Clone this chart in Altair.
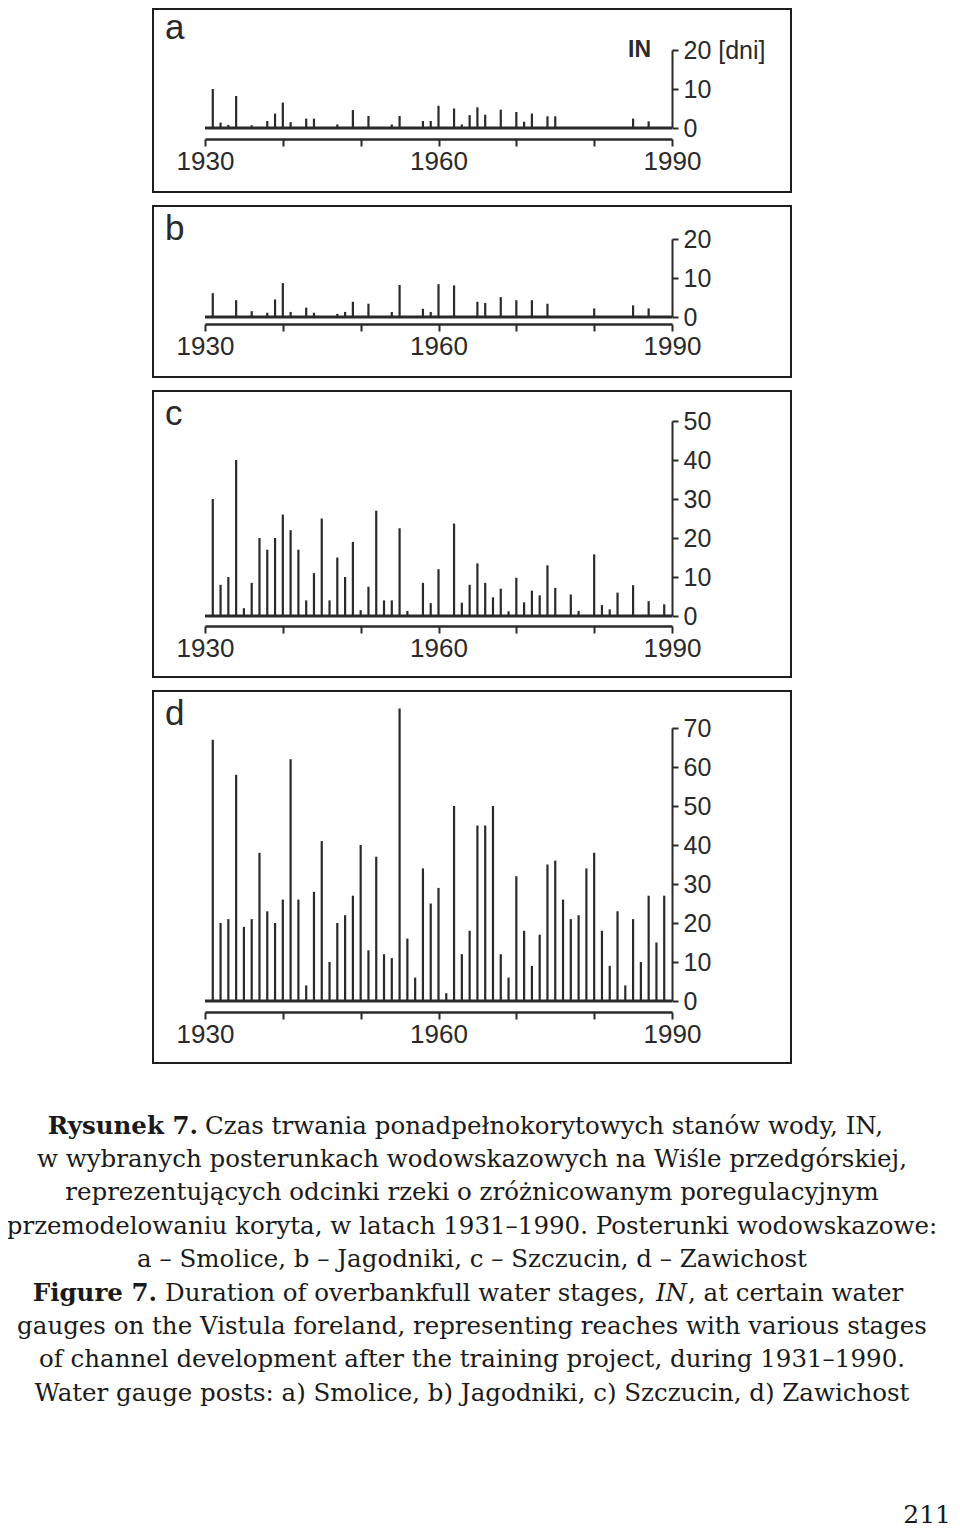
import altair as alt
import pandas as pd

# ---------------- data ----------------
DECADES = [1930, 1940, 1950, 1960, 1970, 1980, 1990]
LABELLED_YEARS = [1930, 1960, 1990]
YEARS = list(range(1931, 1991))

A_YEARS = [1931, 1932, 1933, 1934, 1936, 1938, 1939, 1940, 1941, 1943,
           1944, 1947, 1949, 1951, 1954, 1955, 1958, 1959, 1960, 1962,
           1963, 1964, 1965, 1966, 1968, 1970, 1971, 1972, 1974, 1975,
           1985, 1987]
A_VALUES = [10, 1.4, 0.8, 8.2, 0.7, 1.8, 3.7, 6.5, 1.5, 2.4,
            2.4, 0.9, 4.6, 3.1, 0.9, 3.1, 1.8, 1.8, 5.7, 5,
            0.9, 3.3, 5.3, 3.4, 4.7, 4.1, 1.6, 3.7, 3, 3,
            2.4, 1.7]

B_YEARS = [1931, 1934, 1936, 1938, 1939, 1940, 1941, 1943, 1944, 1947,
           1948, 1949, 1951, 1954, 1955, 1958, 1959, 1960, 1962, 1965,
           1966, 1968, 1970, 1972, 1974, 1980, 1985, 1987]
B_VALUES = [6.1, 4.3, 1.5, 1.1, 4.5, 8.7, 1.3, 2.4, 1.1, 0.8,
            1.3, 3.9, 3.4, 1.3, 8.2, 2.1, 1.3, 8.4, 8.1, 3.9,
            3.6, 5.1, 4.3, 4.3, 3.4, 2.2, 3, 2.2]

C_VALUES = [30, 8, 10, 40, 2, 8.5, 20, 17, 20, 26,
            22, 17, 4, 11, 25, 4, 15, 10, 19, 1.5,
            7.5, 27, 4, 4, 22.5, 1.3, 0, 8.5, 3.3, 12,
            0, 23.7, 3.4, 8, 13.5, 8.5, 4.8, 7, 1.2, 9.8,
            3.5, 6.5, 5.3, 13, 7.2, 0, 5.5, 1.3, 0, 15.8,
            2.8, 1.7, 6, 0, 7.9, 0, 3.8, 0, 3, 0]

D_VALUES = [67, 20, 21, 58, 19, 21, 38, 23, 20, 26,
            62, 26, 4, 28, 41, 10, 20, 22, 27, 40,
            13, 37, 12, 11, 75, 16, 6, 34, 25, 29,
            2, 50, 12, 18, 45, 45, 50, 12, 6, 32,
            18, 9, 17, 35, 36, 26, 21, 22, 34, 38,
            18, 9, 23, 4, 21, 10, 27, 15, 27, 0]

A_TICKS = [0, 10, 20]
B_TICKS = [0, 10, 20]
C_TICKS = [0, 10, 20, 30, 40, 50]
D_TICKS = [0, 10, 20, 30, 40, 50, 60, 70]

LETTERS = ["a", "b", "c", "d"]
UNIT_LABEL = "20 [dni]"
IN_LABEL = "IN"

CAPTION_BOLD_1 = "Rysunek 7."
CAPTION_REST_1 = "Czas trwania ponadpełnokorytowych stanów wody, IN,"
CAPTION_PL = [
    "w wybranych posterunkach wodowskazowych na Wiśle przedgórskiej,",
    "reprezentujących odcinki rzeki o zróżnicowanym poregulacyjnym",
    "przemodelowaniu koryta, w latach 1931–1990. Posterunki wodowskazowe:",
    "a – Smolice, b – Jagodniki, c – Szczucin, d – Zawichost",
]
CAPTION_BOLD_2 = "Figure 7."
CAPTION_REST_2A = "Duration of overbankfull water stages,"
CAPTION_ITALIC_2 = "IN"
CAPTION_REST_2B = ", at certain water"
CAPTION_EN = [
    "gauges on the Vistula foreland, representing reaches with various stages",
    "of channel development after the training project, during 1931–1990.",
    "Water gauge posts: a) Smolice, b) Jagodniki, c) Szczucin, d) Zawichost",
]
PAGE_NUMBER = "211"

# ---------------- styling / layout ----------------
INK = "#2a2a2a"
SANS = "Liberation Sans"
SERIF = "DejaVu Serif"
BOX_W = 638
X_RANGE = [52, 519]
LABEL_TEST = " || ".join(f"datum.value == {y}" for y in LABELLED_YEARS)


def anchor(x, y):
    # invisible mark that fixes the bounds of the page
    return alt.Chart(pd.DataFrame({"t": [""]})).mark_rule(strokeOpacity=0).encode(
        x=alt.value(x), y=alt.value(y), y2=alt.value(y + 1))


def panel(letter, years, values, yticks, height, y0, ytop, gap, unit_label=None, top_anchor=False):
    df = pd.DataFrame({"year": years, "v": values})
    xs = alt.Scale(domain=[DECADES[0], DECADES[-1]], range=X_RANGE, nice=False)
    ys = alt.Scale(domain=[yticks[0], yticks[-1]], range=[y0, ytop], nice=False)
    y_label_expr = "datum.label"
    if unit_label:
        y_label_expr = f"datum.value == {yticks[-1]} ? '{unit_label}' : datum.label"
    x_axis = alt.Axis(
        values=DECADES, format="d",
        labelExpr=f"({LABEL_TEST}) ? datum.label : ''",
        offset=y0 + gap - height, grid=False,
        domainColor=INK, domainWidth=2.5, tickColor=INK, tickWidth=2, tickSize=7,
        labelFont=SANS, labelFontSize=26, labelColor=INK, labelPadding=2,
        labelFlush=False, labelOverlap=False,
    )
    y_axis = alt.Axis(
        orient="right", values=yticks, labelExpr=y_label_expr,
        offset=X_RANGE[1] - BOX_W, grid=False,
        domainColor=INK, domainWidth=2, tickColor=INK, tickWidth=2, tickSize=6,
        labelFont=SANS, labelFontSize=25, labelColor=INK, labelPadding=5,
        labelOverlap=False, labelBaseline="middle",
    )
    base_df = pd.DataFrame({"s": [YEARS[0] - 1], "e": [DECADES[-1]], "z": [0]})
    baseline = alt.Chart(base_df).mark_rule(strokeWidth=3, color=INK).encode(
        x=alt.X("s:Q", scale=xs, axis=x_axis, title=None),
        x2="e:Q",
        y=alt.Y("z:Q", scale=ys, axis=y_axis, title=None),
    )
    bars = alt.Chart(df).mark_rule(strokeWidth=2.2, color=INK).encode(
        x=alt.X("year:Q", scale=xs, title=None),
        y=alt.Y("v:Q", scale=ys, title=None),
        y2=alt.datum(0),
    )
    lab = alt.Chart(pd.DataFrame({"t": [letter]})).mark_text(
        align="left", baseline="alphabetic", font=SANS, fontSize=35, color=INK
    ).encode(x=alt.value(12), y=alt.value(30 if letter == "a" else 34), text="t:N")
    layers = [baseline, bars, lab]
    if unit_label:
        inl = alt.Chart(pd.DataFrame({"t": [IN_LABEL]})).mark_text(
            align="right", baseline="alphabetic", font=SANS, fontSize=23,
            fontWeight="bold", color=INK
        ).encode(x=alt.value(498), y=alt.value(48), text="t:N")
        layers.append(inl)
    if top_anchor:
        layers.append(anchor(100, -20))
    return alt.layer(*layers).properties(
        width=BOX_W, height=height,
        view=alt.ViewBackground(stroke="#1e1e1e", strokeWidth=2, fill="white"),
    )


pa = panel(LETTERS[0], A_YEARS, A_VALUES, A_TICKS, 183, 119, 41, 11, UNIT_LABEL, top_anchor=True)
pb = panel(LETTERS[1], B_YEARS, B_VALUES, B_TICKS, 171, 111, 33, 7)
pc = panel(LETTERS[2], YEARS, C_VALUES, C_TICKS, 286, 225, 30, 10)
pd_ = panel(LETTERS[3], YEARS, D_VALUES, D_TICKS, 372, 310, 37, 11)

# caption (page x = local x + 153, page y = local y + CAP_TOP)
CAP_TOP = 1075
CX = 472 - 153
CAP_SIZE = 24.5


def txt(s, x, y, align="center", weight="normal", style="normal", size=CAP_SIZE, font=SERIF):
    return alt.Chart(pd.DataFrame({"t": [s]})).mark_text(
        align=align, baseline="middle", font=font, fontSize=size,
        fontWeight=weight, fontStyle=style, color="#1a1a1a"
    ).encode(x=alt.value(x), y=alt.value(y), text="t:N")


line_y = [1126, 1159, 1192, 1226, 1259, 1293, 1326, 1359, 1393]
cap_layers = [
    anchor(-160, 0),
    txt(CAPTION_BOLD_1, 198 - 153, line_y[0] - CAP_TOP, align="right", weight="bold"),
    txt(CAPTION_REST_1, 205 - 153, line_y[0] - CAP_TOP, align="left"),
]
for i, s in enumerate(CAPTION_PL):
    cap_layers.append(txt(s, CX, line_y[1 + i] - CAP_TOP))
cap_layers += [
    txt(CAPTION_BOLD_2, 157 - 153, line_y[5] - CAP_TOP, align="right", weight="bold"),
    txt(CAPTION_REST_2A, 165 - 153, line_y[5] - CAP_TOP, align="left"),
    txt(CAPTION_ITALIC_2, 687 - 153, line_y[5] - CAP_TOP, align="right", style="italic"),
    txt(CAPTION_REST_2B, 688 - 153, line_y[5] - CAP_TOP, align="left"),
]
for i, s in enumerate(CAPTION_EN):
    cap_layers.append(txt(s, CX, line_y[6 + i] - CAP_TOP))
cap_layers.append(txt(PAGE_NUMBER, 951 - 153, 1514 - CAP_TOP, align="right", size=25))

caption = alt.layer(*cap_layers).properties(
    width=BOX_W, height=450,
    view=alt.ViewBackground(stroke="transparent", strokeWidth=0),
)

chart = alt.vconcat(pa, pb, pc, pd_, caption, spacing=12).properties(
    padding={"left": -15, "top": -20, "right": 0, "bottom": 0},
    background="white",
)

chart.save("out.html", embed_options={"renderer": "svg", "actions": False})
